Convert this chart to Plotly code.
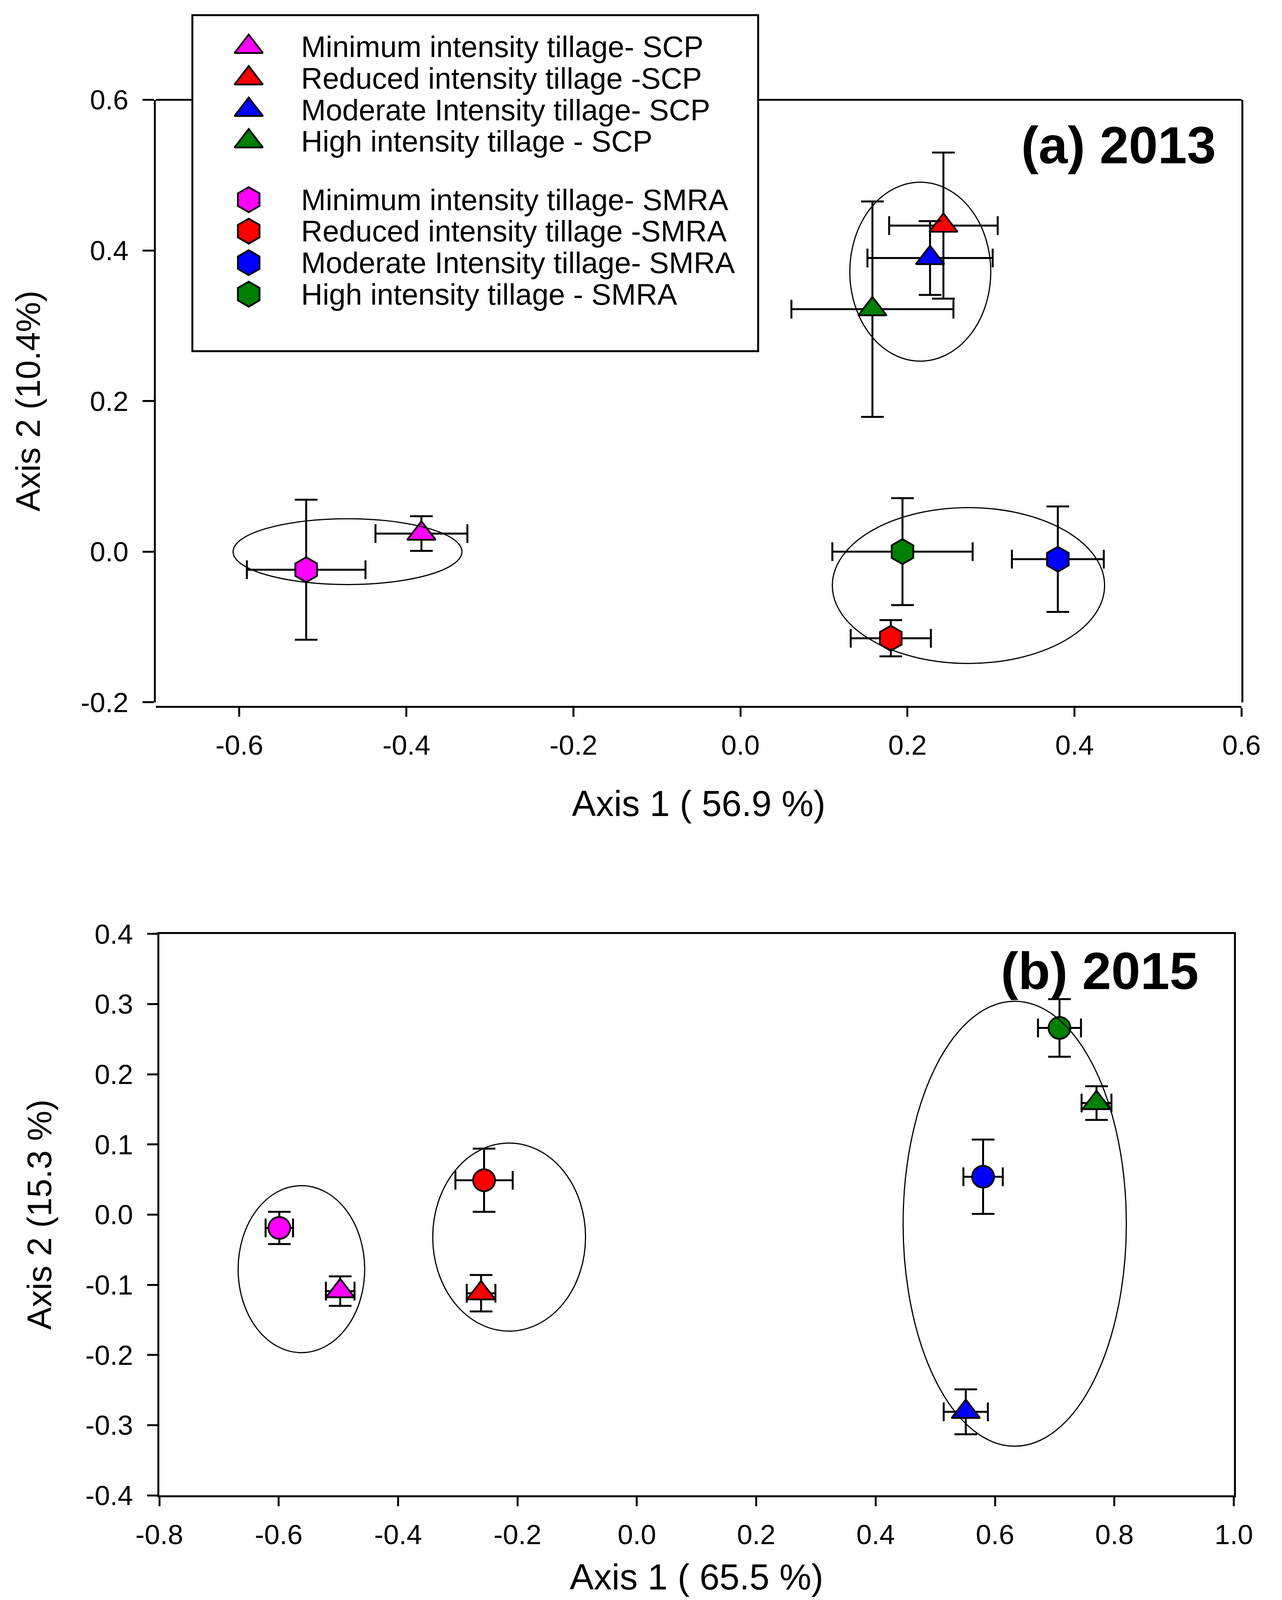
import plotly.graph_objects as go

# ---- data ----
TREATMENTS = ["Minimum intensity tillage", "Reduced intensity tillage",
              "Moderate Intensity tillage", "High intensity tillage"]
SCP_LABELS = ["Minimum intensity tillage- SCP", "Reduced intensity tillage -SCP",
              "Moderate Intensity tillage- SCP", "High intensity tillage - SCP"]
SMRA_LABELS = ["Minimum intensity tillage- SMRA", "Reduced intensity tillage -SMRA",
               "Moderate Intensity tillage- SMRA", "High intensity tillage - SMRA"]
COLORS = ["#FF00FF", "#FF0000", "#0000FF", "#008000"]

# (a) 2013
SCP_2013_X = [-0.382, 0.243, 0.227, 0.158]
SCP_2013_Y = [0.024, 0.433, 0.390, 0.322]
SCP_2013_XERR = [0.055, 0.065, 0.075, 0.097]
SCP_2013_YERR = [0.023, 0.097, 0.049, 0.143]
SMRA_2013_X = [-0.520, 0.180, 0.380, 0.194]
SMRA_2013_Y = [-0.024, -0.115, -0.010, 0.000]
SMRA_2013_XERR = [0.071, 0.048, 0.055, 0.084]
SMRA_2013_YERR = [0.093, 0.024, 0.070, 0.071]
ELL_2013_CX = [-0.4705, 0.2153, 0.273]
ELL_2013_CY = [0.000, 0.3718, -0.045]
ELL_2013_RX = [0.137, 0.0844, 0.163]
ELL_2013_RY = [0.0437, 0.1188, 0.1035]

# (b) 2015
SCP_2015_X = [-0.497, -0.261, 0.551, 0.770]
SCP_2015_Y = [-0.109, -0.112, -0.281, 0.159]
SCP_2015_XERR = [0.024, 0.024, 0.037, 0.025]
SCP_2015_YERR = [0.021, 0.026, 0.032, 0.024]
SMRA_2015_X = [-0.599, -0.256, 0.580, 0.708]
SMRA_2015_Y = [-0.019, 0.049, 0.054, 0.266]
SMRA_2015_XERR = [0.023, 0.048, 0.033, 0.036]
SMRA_2015_YERR = [0.023, 0.045, 0.053, 0.041]
ELL_2015_CX = [-0.562, -0.214, 0.633]
ELL_2015_CY = [-0.0777, -0.032, -0.013]
ELL_2015_RX = [0.106, 0.128, 0.187]
ELL_2015_RY = [0.119, 0.134, 0.317]

X_TICKS_2013 = [-0.6, -0.4, -0.2, 0.0, 0.2, 0.4, 0.6]
Y_TICKS_2013 = [-0.2, 0.0, 0.2, 0.4, 0.6]
X_TICKS_2015 = [-0.8, -0.6, -0.4, -0.2, 0.0, 0.2, 0.4, 0.6, 0.8, 1.0]
Y_TICKS_2015 = [-0.4, -0.3, -0.2, -0.1, 0.0, 0.1, 0.2, 0.3, 0.4]

# ---- page geometry, in pixels of the 3283x4630 reference ----
W, H = 3283, 4630
FONT = "Arial, Liberation Sans, sans-serif"


def px_x(v):
    return v / W


def px_y(v):
    return 1 - v / H


def ticktext(vals):
    return [f"{v:.1f}" for v in vals]


fig = go.Figure()


def add_points(xs, ys, xerr, yerr, labels, symbol, size, xa, ya):
    for i in range(len(xs)):
        fig.add_trace(go.Scatter(
            x=[xs[i]], y=[ys[i]],
            mode="markers",
            name=labels[i],
            showlegend=False,
            xaxis=xa, yaxis=ya,
            marker=dict(symbol=symbol, size=size, color=COLORS[i],
                        line=dict(color="black", width=4.5)),
            error_x=dict(type="data", array=[xerr[i]], color="black",
                         thickness=5, width=24),
            error_y=dict(type="data", array=[yerr[i]], color="black",
                         thickness=5, width=29),
        ))


add_points(SCP_2013_X, SCP_2013_Y, SCP_2013_XERR, SCP_2013_YERR,
           SCP_LABELS, "triangle-up", 63, "x", "y")
add_points(SMRA_2013_X, SMRA_2013_Y, SMRA_2013_XERR, SMRA_2013_YERR,
           SMRA_LABELS, "hexagon", 64, "x", "y")
add_points(SCP_2015_X, SCP_2015_Y, SCP_2015_XERR, SCP_2015_YERR,
           SCP_LABELS, "triangle-up", 63, "x2", "y2")
add_points(SMRA_2015_X, SMRA_2015_Y, SMRA_2015_XERR, SMRA_2015_YERR,
           SMRA_LABELS, "circle", 56, "x2", "y2")

shapes = []
for cx, cy, rx, ry in zip(ELL_2013_CX, ELL_2013_CY, ELL_2013_RX, ELL_2013_RY):
    shapes.append(dict(type="circle", xref="x", yref="y",
                       x0=cx - rx, x1=cx + rx, y0=cy - ry, y1=cy + ry,
                       line=dict(color="black", width=3), layer="above"))
for cx, cy, rx, ry in zip(ELL_2015_CX, ELL_2015_CY, ELL_2015_RX, ELL_2015_RY):
    shapes.append(dict(type="circle", xref="x2", yref="y2",
                       x0=cx - rx, x1=cx + rx, y0=cy - ry, y1=cy + ry,
                       line=dict(color="black", width=3), layer="above"))

# legend box (drawn by hand so the symbols can be as big as on the plot)
LEG_L, LEG_R, LEG_T, LEG_B = 487, 1943, 35, 1011
TOP_DOM_X = [px_x(393), px_x(3187)]
TOP_DOM_Y = [px_y(2031), px_y(281)]
shapes.append(dict(type="rect", xref="paper", yref="paper",
                   x0=px_x(LEG_L), x1=px_x(LEG_R), y0=px_y(LEG_B), y1=px_y(LEG_T),
                   line=dict(color="black", width=5)))
# top frame line of panel (a), interrupted by the legend box
for xa, xb in [(TOP_DOM_X[0], px_x(LEG_L)), (px_x(LEG_R), TOP_DOM_X[1])]:
    shapes.append(dict(type="line", xref="paper", yref="paper",
                       x0=xa, x1=xb, y0=TOP_DOM_Y[1], y1=TOP_DOM_Y[1],
                       line=dict(color="black", width=5)))

leg_labels = SCP_LABELS + SMRA_LABELS
leg_symbols = ["triangle-up"] * 4 + ["hexagon"] * 4
leg_sizes = [63] * 4 + [64] * 4
leg_colors = COLORS + COLORS
ROW0, ROW_STEP, GROUP_GAP = 92, 91.5, 78
leg_rows = [ROW0 + ROW_STEP * i + (GROUP_GAP if i >= 4 else 0) for i in range(8)]

annotations = []
for i, lab in enumerate(leg_labels):
    fig.add_trace(go.Scatter(
        x=[145], y=[leg_rows[i]], mode="markers", name=lab, showlegend=False,
        xaxis="x3", yaxis="y3", hoverinfo="skip",
        marker=dict(symbol=leg_symbols[i], size=leg_sizes[i], color=leg_colors[i],
                    line=dict(color="black", width=4.5)),
    ))
    annotations.append(dict(x=278, y=leg_rows[i], xref="x3", yref="y3",
                            text=lab, showarrow=False, xanchor="left",
                            yanchor="middle",
                            font=dict(family=FONT, size=76, color="black")))

annotations.append(dict(x=px_x(3123), y=px_y(413), xref="paper", yref="paper",
                        text="<b>(a) 2013</b>", showarrow=False,
                        xanchor="right", yanchor="middle",
                        font=dict(family=FONT, size=134, color="black")))
annotations.append(dict(x=px_x(3078), y=px_y(2812), xref="paper", yref="paper",
                        text="<b>(b) 2015</b>", showarrow=False,
                        xanchor="right", yanchor="middle",
                        font=dict(family=FONT, size=134, color="black")))

axis_common = dict(showline=True, linecolor="black", linewidth=5,
                   ticks="outside", tickwidth=5, tickcolor="black",
                   showgrid=False, zeroline=False, automargin=False,
                   tickfont=dict(family=FONT, size=71, color="black"))

fig.update_layout(
    template="none",
    margin=dict(l=0, r=0, t=0, b=0, pad=0),
    paper_bgcolor="white", plot_bgcolor="rgba(0,0,0,0)",
    font=dict(family=FONT, color="black"),
    showlegend=False,
    xaxis=dict(axis_common, domain=TOP_DOM_X, range=[-0.7, 0.6],
               anchor="free", position=px_y(2044),
               tickvals=X_TICKS_2013, ticktext=ticktext(X_TICKS_2013),
               ticklen=23, ticklabelstandoff=12,
               title=dict(text="Axis 1 ( 56.9 %)", standoff=78,
                          font=dict(family=FONT, size=92))),
    yaxis=dict(axis_common, domain=TOP_DOM_Y, range=[-0.2, 0.6],
               anchor="x", mirror=True,
               tickvals=Y_TICKS_2013, ticktext=ticktext(Y_TICKS_2013),
               ticklen=29, ticklabelstandoff=22,
               title=dict(text="Axis 2 (10.4%)", standoff=77,
                          font=dict(family=FONT, size=87))),
    xaxis2=dict(axis_common, domain=[px_x(402), px_x(3167)], range=[-0.8, 1.0],
                anchor="y2", mirror=True,
                tickvals=X_TICKS_2015, ticktext=ticktext(X_TICKS_2015),
                ticklen=23, ticklabelstandoff=12,
                title=dict(text="Axis 1 ( 65.5 %)", standoff=62,
                           font=dict(family=FONT, size=92))),
    yaxis2=dict(axis_common, domain=[px_y(4335), px_y(2704)], range=[-0.4, 0.4],
                anchor="x2", mirror=True,
                tickvals=Y_TICKS_2015, ticktext=ticktext(Y_TICKS_2015),
                ticklen=26, ticklabelstandoff=22,
                title=dict(text="Axis 2 (15.3 %)", standoff=60,
                           font=dict(family=FONT, size=87))),
    xaxis3=dict(domain=[px_x(LEG_L), px_x(LEG_R)], range=[0, LEG_R - LEG_L],
                anchor="y3", visible=False, fixedrange=True),
    yaxis3=dict(domain=[px_y(LEG_B), px_y(LEG_T)], range=[LEG_B - LEG_T, 0],
                anchor="x3", visible=False, fixedrange=True),
    shapes=shapes,
    annotations=annotations,
)

# size the figure to the visible window so nothing falls below its lower edge
fig.write_html("out.html", default_width="100%",
               default_height="calc(100vh - 16px)")
